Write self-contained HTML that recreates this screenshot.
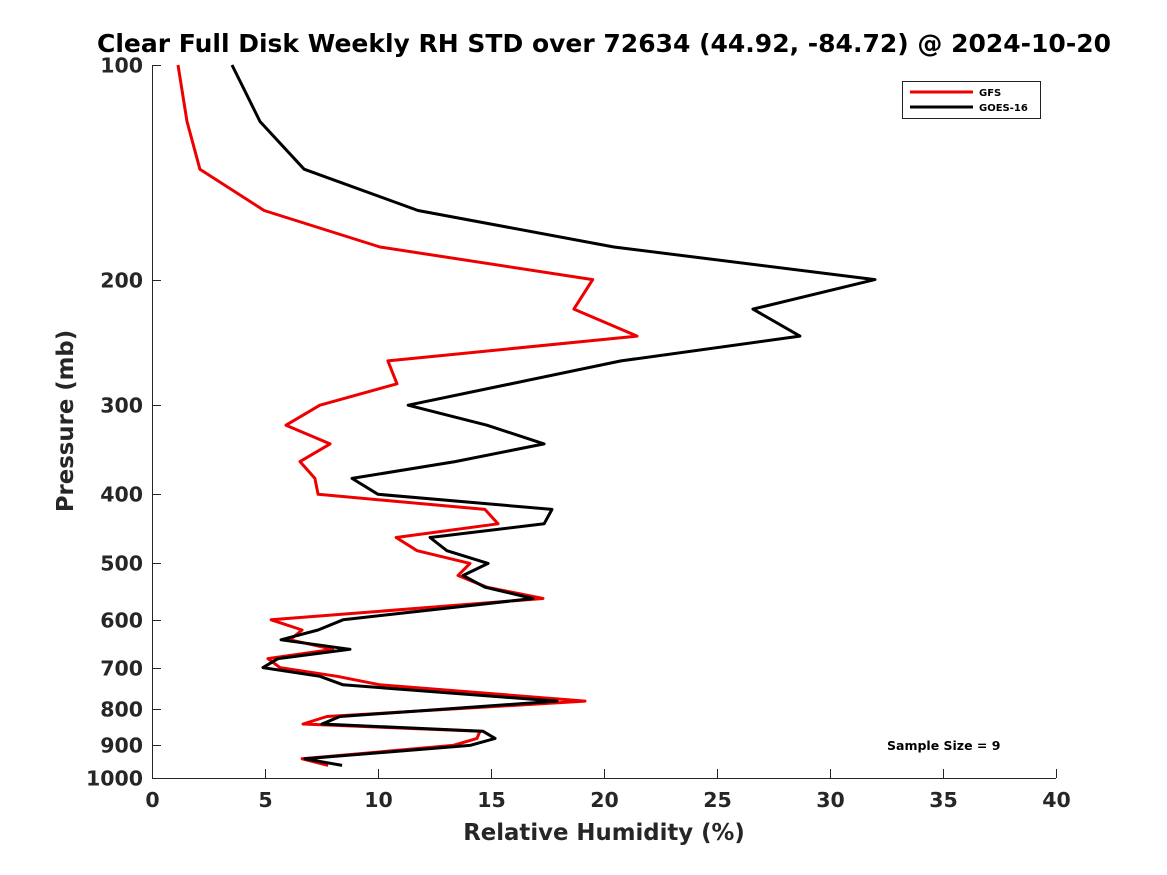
<!DOCTYPE html>
<html><head><meta charset="utf-8"><style>
body{margin:0;background:#fff;}
svg{display:block;font-family:"DejaVu Sans","Liberation Sans",sans-serif;font-weight:bold;}
</style></head><body>
<svg id="chart" width="1167" height="875">
<text x="604" y="52" text-anchor="middle" font-size="25">Clear Full Disk Weekly RH STD over 72634 (44.92, -84.72) @ 2024-10-20</text>
<g id="axes"></g>
<g id="series"></g>
<text x="604" y="840" text-anchor="middle" font-size="22.8" fill="#262626">Relative Humidity (%)</text>
<text transform="translate(73,421) rotate(-90)" text-anchor="middle" font-size="22.8" fill="#262626">Pressure (mb)</text>
<text x="887" y="750" font-size="12.5">Sample Size = 9</text>
<g>
<rect x="902.5" y="81.5" width="138" height="37" fill="#fff" stroke="#222" stroke-width="1"/>
<line x1="910" y1="92" x2="973" y2="92" stroke="#e00" stroke-width="3"/>
<text x="979" y="96" font-size="10">GFS</text>
<line x1="910" y1="107" x2="973" y2="107" stroke="#000" stroke-width="3"/>
<text x="979" y="111" font-size="10">GOES-16</text>
</g>
</svg>
<script>
const xTicks=[0,5,10,15,20,25,30,35,40];
const yTicks=[100,200,300,400,500,600,700,800,900,1000];
const gfsP=[100,120,140,160,180,200,220,240,260,280,300,320,340,360,380,400,420,440,460,480,500,520,540,560,600,620,640,660,680,700,720,740,780,820,840,860,880,900,940,960];
const gfsRH=[1.15,1.55,2.12,4.96,10.09,19.5,18.67,21.46,10.44,10.84,7.43,5.93,7.88,6.55,7.21,7.35,14.73,15.31,10.8,11.73,14.07,13.54,14.82,17.3,5.27,6.64,6.1,8.0,5.13,5.66,8.19,10.09,19.16,7.74,6.68,14.51,14.38,13.32,6.64,7.79];
const goesP=[100,120,140,160,180,200,220,240,260,300,320,340,360,380,400,420,440,460,480,500,520,540,560,600,620,640,660,680,700,720,740,780,820,840,860,880,900,940,960];
const goesRH=[3.54,4.78,6.73,11.77,20.44,31.99,26.59,28.67,20.75,11.33,14.82,17.35,13.41,8.85,10.0,17.7,17.35,12.3,13.05,14.87,13.76,14.73,16.86,8.45,7.35,5.71,8.76,5.58,4.91,7.43,8.45,17.92,8.32,7.52,14.65,15.18,14.07,6.77,8.41];
const L=152,R=1056,T=65,B=778;
const xs=v=>L+(v-0)/(40-0)*(R-L);
const ys=p=>T+Math.log10(p/100)*(B-T);
const NS="http://www.w3.org/2000/svg";
const axes=document.getElementById('axes'),series=document.getElementById('series');
function mk(tag,attrs,parent){const e=document.createElementNS(NS,tag);for(const k in attrs)e.setAttribute(k,attrs[k]);parent.appendChild(e);return e;}
const xl=mk('line',{x1:L,y1:B+0.5,x2:R,y2:B+0.5,stroke:'#262626','stroke-width':1},axes);


const yl=mk('line',{x1:L+0.5,y1:T,x2:L+0.5,y2:B,stroke:'#262626','stroke-width':1},axes);


xTicks.forEach(v=>{const x=Math.round(xs(v))+0.5;
mk('line',{x1:x,y1:B,x2:x,y2:B-9,stroke:'#262626'},axes);
const t=mk('text',{x:x,y:B+29,'text-anchor':'middle','font-size':20.5,fill:'#262626'},axes);t.textContent=v;

});
yTicks.forEach(p=>{const y=Math.round(ys(p))+0.5;
mk('line',{x1:L,y1:y,x2:L+9,y2:y,stroke:'#262626'},axes);
const t=mk('text',{x:L-9,y:y+7,'text-anchor':'end','font-size':20.5,fill:'#262626'},axes);t.textContent=p;

});
function draw(P,V,color,name){const d=P.map((p,i)=>(i?'L':'M')+xs(V[i]).toFixed(1)+','+ys(p).toFixed(1)).join('');
const e=mk('path',{d:d,fill:'none',stroke:color,'stroke-width':3,'stroke-linejoin':'round'},series);

}
draw(gfsP,gfsRH,'#e00','gfs-line');
draw(goesP,goesRH,'#000','goes16-line');
</script>
</body></html>
